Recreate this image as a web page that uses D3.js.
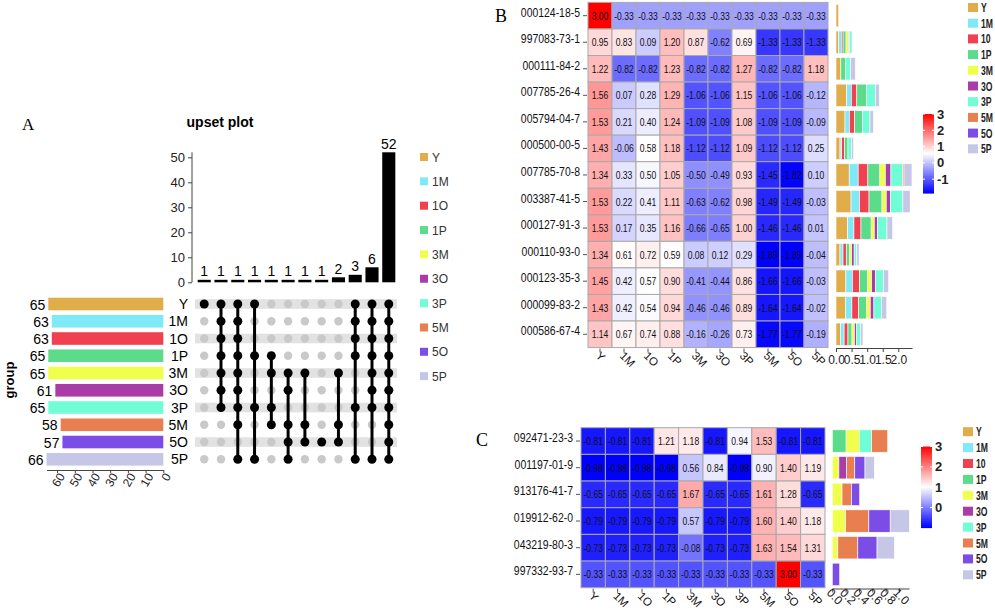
<!DOCTYPE html>
<html><head><meta charset="utf-8">
<script src="https://cdn.jsdelivr.net/npm/d3@7"></script>
<style>body{margin:0;background:#fff;} svg{display:block;font-family:"Liberation Sans",Arial,sans-serif;}</style>
</head><body><svg id="c" width="995" height="614"></svg>
<script>
// ---------- data ----------
const groups = ["Y","1M","1O","1P","3M","3O","3P","5M","5O","5P"];
const legendLabels = ["Y","1M","10","1P","3M","3O","3P","5M","5O","5P"];
const legendLabelsA = ["Y","1M","1O","1P","3M","3O","3P","5M","5O","5P"];
const groupColors = ["#E0AD4A","#80E9F7","#EF4150","#5CDC8B","#EFFF4B","#A93CA6","#70FED6","#E97F50","#7B4CE6","#C6C6E7"];
const setSizes = [65,63,63,65,65,61,65,58,57,66];
const interCounts = [1,1,1,1,1,1,1,1,2,3,6,52];
const interSets = [
  ["Y"],
  ["Y","1M","1O","1P","3M","3O","3P"],
  ["Y","1M","1O","1P","3M","3O","3P","5M","5P"],
  ["Y","1P","3P","5P"],
  ["1P","3M","3P","5M"],
  ["3M","3O","5M","5O","5P"],
  ["3M","5M","5O"],
  ["5O"],
  ["3M","5M","5O"],
  ["Y","1M","1O","1P","3P","5P"],
  ["Y","1M","1O","1P","3M","3O","3P","5P"],
  ["Y","1M","1O","1P","3M","3O","3P","5M","5O","5P"]
];
const upsetTicks = [0,10,20,30,40,50];
const setTicks = [60,50,40,30,20,10,0];

const bRows = ["000124-18-5","997083-73-1","000111-84-2","007785-26-4","005794-04-7","000500-00-5","007785-70-8","003387-41-5","000127-91-3","000110-93-0","000123-35-3","000099-83-2","000586-67-4"];
const bZ = [
[3.00,-0.33,-0.33,-0.33,-0.33,-0.33,-0.33,-0.33,-0.33,-0.33],
[0.95,0.83,0.09,1.20,0.87,-0.62,0.69,-1.33,-1.33,-1.33],
[1.22,-0.82,-0.82,1.23,-0.82,-0.82,1.27,-0.82,-0.82,1.18],
[1.56,0.07,0.28,1.29,-1.06,-1.06,1.15,-1.06,-1.06,-0.12],
[1.53,0.21,0.40,1.24,-1.09,-1.09,1.08,-1.09,-1.09,-0.09],
[1.43,-0.06,0.58,1.18,-1.12,-1.12,1.09,-1.12,-1.12,0.25],
[1.34,0.33,0.50,1.05,-0.50,-0.49,0.93,-1.45,-1.82,0.10],
[1.53,0.22,0.41,1.11,-0.63,-0.62,0.98,-1.49,-1.49,-0.03],
[1.53,0.17,0.35,1.16,-0.66,-0.65,1.00,-1.46,-1.46,0.01],
[1.34,0.61,0.72,0.59,0.08,0.12,0.29,-1.85,-1.85,-0.04],
[1.45,0.42,0.57,0.90,-0.41,-0.44,0.86,-1.66,-1.66,-0.03],
[1.43,0.42,0.54,0.94,-0.46,-0.46,0.89,-1.64,-1.64,-0.02],
[1.14,0.67,0.74,0.88,-0.16,-0.26,0.73,-1.77,-1.77,-0.19]];
const bBars = [
[0.085,0,0,0,0,0,0,0,0,0],
[0.088,0.083,0.055,0.097,0.085,0.027,0.078,0,0,0],
[0.155,0,0,0.155,0,0,0.158,0,0,0.152],
[0.344,0.148,0.176,0.309,0,0,0.290,0,0,0.123],
[0.288,0.143,0.164,0.256,0,0,0.239,0,0,0.110],
[0.129,0.054,0.086,0.116,0,0,0.112,0,0,0.069],
[0.424,0.288,0.311,0.385,0.177,0.178,0.369,0.050,0,0.257],
[0.483,0.273,0.304,0.416,0.137,0.139,0.395,0,0,0.233],
[0.373,0.203,0.226,0.327,0.100,0.101,0.307,0,0,0.183],
[0.128,0.098,0.103,0.098,0.077,0.079,0.086,0,0,0.072],
[0.317,0.212,0.227,0.261,0.127,0.124,0.257,0,0,0.166],
[0.305,0.205,0.217,0.256,0.117,0.117,0.251,0,0,0.161],
[0.142,0.119,0.123,0.129,0.079,0.074,0.122,0,0,0.077]];
const bBarTicks = [0,0.5,1.0,1.5,2.0];
const bColorTicks = [3,2,1,0,-1];

const cRows = ["092471-23-3","001197-01-9","913176-41-7","019912-62-0","043219-80-3","997332-93-7"];
const cZ = [
[-0.81,-0.81,-0.81,1.21,1.18,-0.81,0.94,1.53,-0.81,-0.81],
[-0.98,-0.98,-0.98,-0.98,0.56,0.84,-0.98,0.90,1.40,1.19],
[-0.65,-0.65,-0.65,-0.65,1.67,-0.65,-0.65,1.61,1.28,-0.65],
[-0.79,-0.79,-0.79,-0.79,0.57,-0.79,-0.79,1.60,1.40,1.18],
[-0.73,-0.73,-0.73,-0.73,-0.08,-0.73,-0.73,1.63,1.54,1.31],
[-0.33,-0.33,-0.33,-0.33,-0.33,-0.33,-0.33,-0.33,3.00,-0.33]];
const cBars = [
[0,0,0,0.207,0.204,0,0.179,0.240,0,0],
[0,0,0,0,0.099,0.117,0,0.121,0.153,0.140],
[0,0,0,0,0.146,0,0,0.142,0.122,0],
[0,0,0,0,0.199,0,0,0.349,0.320,0.288],
[0,0,0,0,0.083,0,0,0.300,0.288,0.259],
[0,0,0,0,0,0,0,0,0.110,0]];
const cBarTicks = [0,0.2,0.4,0.6,0.8,1.0];
const cColorTicks = [3,2,1,0];

// ---------- drawing ----------
const svg = d3.select("#c");
const serif = '"Liberation Serif","Times New Roman",serif';
// horizontally condensed text (the B/C panels are narrowed in the reference)
function sqText(parent, x, y, sx, txt){
  return parent.append("text").attr("transform",`translate(${x},${y}) scale(${sx},1)`).text(txt);
}

// ===== Panel A =====
svg.append("text").attr("x",22).attr("y",130).attr("font-family",serif).attr("font-size",17).text("A");
svg.append("text").attr("x",220).attr("y",127).attr("text-anchor","middle").attr("font-weight","bold").attr("font-size",14).text("upset plot");

const colX = d3.scaleBand().domain(d3.range(interCounts.length)).range([196,397]).paddingInner(0.22).paddingOuter(0.1);
const yTop = d3.scaleLinear().domain([0,52]).range([282.3,152.3]);
const rowY = d3.scalePoint().domain(groups).range([304,459.3]);

const gTop = svg.append("g");
gTop.append("g").attr("transform","translate(192,0)")
  .call(d3.axisLeft(yTop).tickValues(upsetTicks).tickSize(4).tickSizeOuter(0))
  .call(g=>{g.selectAll("text").attr("font-size",13).attr("fill","#222");g.selectAll("line,path").attr("stroke","#444");g.select(".domain").attr("d","M0,282.3V152.3");});
gTop.selectAll("rect").data(interCounts).join("rect")
  .attr("x",(d,i)=>colX(i)).attr("width",colX.bandwidth())
  .attr("y",d=>yTop(d)).attr("height",d=>yTop(0)-yTop(d)).attr("fill","#000");
gTop.selectAll("text.cnt").data(interCounts).join("text").attr("class","cnt")
  .attr("x",(d,i)=>colX(i)+colX.bandwidth()/2).attr("y",d=>yTop(d)-3.5)
  .attr("text-anchor","middle").attr("font-size",14).text(d=>d);

groups.forEach((g,i)=>{ if(i%2===0) svg.append("rect").attr("x",195).attr("width",202).attr("y",rowY(g)-4.8).attr("height",9.6).attr("fill","#e2e2e2"); });
svg.selectAll("text.rl").data(groups).join("text").attr("class","rl")
  .attr("x",188).attr("y",d=>rowY(d)+5).attr("text-anchor","end").attr("font-size",14).text(d=>d);
const gM = svg.append("g");
interSets.forEach((s,i)=>{
  const cx = colX(i)+colX.bandwidth()/2;
  groups.forEach(g=>{ if(!s.includes(g)) gM.append("circle").attr("cx",cx).attr("cy",rowY(g)).attr("r",4.2).attr("fill","#c9c9c9"); });
  const ys = s.map(g=>rowY(g));
  if(ys.length>1) gM.append("line").attr("x1",cx).attr("x2",cx).attr("y1",d3.min(ys)).attr("y2",d3.max(ys)).attr("stroke","#000").attr("stroke-width",3);
  s.forEach(g=> gM.append("circle").attr("cx",cx).attr("cy",rowY(g)).attr("r",4.5).attr("fill","#000"));
});

const xSet = d3.scaleLinear().domain([0,66]).range([163.3,46.5]);
svg.selectAll("rect.sb").data(setSizes).join("rect").attr("class","sb")
  .attr("x",d=>xSet(d)).attr("width",d=>xSet(0)-xSet(d))
  .attr("y",(d,i)=>rowY(groups[i])-6.3).attr("height",12.6)
  .attr("fill",(d,i)=>groupColors[i]);
svg.selectAll("text.sv").data(setSizes).join("text").attr("class","sv")
  .attr("x",d=>xSet(d)-3).attr("y",(d,i)=>rowY(groups[i])+5.5).attr("text-anchor","end").attr("font-size",14).text(d=>d);
svg.append("g").attr("transform","translate(0,470)")
  .call(d3.axisBottom(xSet).tickValues(setTicks).tickSize(3).tickSizeOuter(0))
  .call(g=>{g.selectAll("line,path").attr("stroke","#444");
    g.selectAll("text").attr("font-size",12).attr("fill","#222").attr("text-anchor","end").attr("transform","translate(4,4) rotate(-60)").attr("dy","0.35em").attr("y",0).attr("x",0);});
svg.append("text").attr("transform","translate(14,380) rotate(-90)").attr("text-anchor","middle").attr("font-weight","bold").attr("font-size",13).text("group");

legendLabelsA.forEach((l,i)=>{
  const y = 157 + i*24.35;
  svg.append("rect").attr("x",420).attr("y",y-4).attr("width",8).attr("height",8).attr("fill",groupColors[i]);
  svg.append("text").attr("x",432).attr("y",y+4.5).attr("font-size",12).attr("fill","#333").text(l);
});

// ===== heatmap helper =====
function heatmap(opts){
  const {rows, Z, x0, y0, cw, rh, labelX} = opts;
  const flat = Z.flat();
  const mn = d3.min(flat), mx = d3.max(flat), md=(mn+mx)/2;
  const col = d3.scaleLinear().domain([mn,md,mx]).range(["#0000ff","#ffffff","#ff0000"]);
  const xs = d3.scaleBand().domain(groups).range([x0, x0+cw*groups.length]);
  const ys = d3.scaleBand().domain(rows).range([y0, y0+rh*rows.length]);
  const g = svg.append("g");
  Z.forEach((r,ri)=>r.forEach((v,ci)=>{
    g.append("rect").attr("x",xs(groups[ci])).attr("y",ys(rows[ri])).attr("width",xs.bandwidth()).attr("height",ys.bandwidth())
      .attr("fill",col(v)).attr("stroke","#a9a9a9").attr("stroke-width",1);
    sqText(g, xs(groups[ci])+xs.bandwidth()/2, ys(rows[ri])+ys.bandwidth()/2+4, 0.78, v.toFixed(2))
      .attr("text-anchor","middle").attr("font-size",11).attr("fill","#111");
  }));
  rows.forEach(r=>{
    const yc = ys(r)+ys.bandwidth()/2;
    g.append("line").attr("x1",x0-5).attr("x2",x0-1).attr("y1",yc).attr("y2",yc).attr("stroke","#555");
    sqText(g, labelX, yc+1, 0.87, r).attr("text-anchor","end").attr("font-size",12).attr("fill","#111");
  });
  const yb = y0+rh*rows.length;
  groups.forEach(c=>{
    const xc = xs(c)+xs.bandwidth()/2;
    g.append("line").attr("x1",xc).attr("x2",xc).attr("y1",yb+1).attr("y2",yb+5).attr("stroke","#555");
    g.append("text").attr("transform",`translate(${xc-5},${yb+9}) rotate(45)`).attr("font-size",11.5).attr("fill","#111").text(c);
  });
  return {col, ys, mn, mx};
}
function stackBars(opts){
  const {rows, V, ys, x, axisY, ticks, fmt, rotate} = opts;
  const g = svg.append("g");
  V.forEach((r,ri)=>{
    let acc=0;
    r.forEach((v,ci)=>{
      if(v>0){
        g.append("rect").attr("x",x(acc)).attr("width",x(acc+v)-x(acc)).attr("y",ys(rows[ri])+ys.bandwidth()/2-11.2).attr("height",22.4)
          .attr("fill",groupColors[ci]).attr("stroke","#fff").attr("stroke-width",0.6);
      }
      acc+=v;
    });
  });
  const ax = g.append("g").attr("transform",`translate(0,${axisY})`)
    .call(d3.axisBottom(x).tickValues(ticks).tickFormat(d3.format(fmt)).tickSize(4).tickSizeOuter(0));
  ax.selectAll("line,path").attr("stroke","#444");
  ax.selectAll("text").attr("font-size",12).attr("fill","#222");
  if(rotate){ ax.selectAll("text").attr("transform","translate(2,8) rotate(45)").attr("y",0).attr("dy","0.35em").attr("text-anchor","middle"); }
}
function colorbar(col, mn, mx, x, yOf, ticks){
  const g = svg.append("g");
  const n=120;
  for(let i=0;i<n;i++){
    const v0 = mx-(mx-mn)*i/n, v1 = mx-(mx-mn)*(i+1)/n;
    g.append("rect").attr("x",x).attr("width",11).attr("y",yOf(v0)).attr("height",yOf(v1)-yOf(v0)+0.6).attr("fill",col((v0+v1)/2));
  }
  ticks.forEach(t=>{
    g.append("line").attr("x1",x).attr("x2",x+2).attr("y1",yOf(t)).attr("y2",yOf(t)).attr("stroke","#fff");
    g.append("line").attr("x1",x+9).attr("x2",x+11).attr("y1",yOf(t)).attr("y2",yOf(t)).attr("stroke","#fff");
    g.append("text").attr("x",x+14).attr("y",yOf(t)+4.5).attr("font-size",13).attr("font-weight","bold").attr("fill","#222").text(t);
  });
}
function legend(labels, x, y0, step){
  labels.forEach((l,i)=>{
    const y=y0+i*step;
    svg.append("rect").attr("x",x).attr("y",y-4.5).attr("width",10).attr("height",9).attr("fill",groupColors[i]);
    sqText(svg, x+13, y+4.5, 0.72, l).attr("font-size",12).attr("font-weight","bold").attr("fill","#222");
  });
}

// ===== Panel B =====
svg.append("text").attr("x",495).attr("y",22).attr("font-family",serif).attr("font-size",18).text("B");
const hb = heatmap({rows:bRows, Z:bZ, x0:588, y0:2.4, cw:24, rh:26.55, labelX:580});
stackBars({rows:bRows, V:bBars, ys:hb.ys, x:d3.scaleLinear().domain([0,2.44]).range([836,912]), axisY:348, ticks:bBarTicks, fmt:".1f"});
const yB = d3.scaleLinear().domain([3,hb.mn]).range([114,193]);
colorbar(hb.col, hb.mn, hb.mx, 923, yB, bColorTicks);
legend(legendLabels, 968, 7.5, 15.7);

// ===== Panel C =====
svg.append("text").attr("x",476).attr("y",446).attr("font-family",serif).attr("font-size",18).text("C");
const hc = heatmap({rows:cRows, Z:cZ, x0:581, y0:427.7, cw:24.4, rh:26.67, labelX:573});
stackBars({rows:cRows, V:cBars, ys:hc.ys, x:d3.scaleLinear().domain([0,1.15]).range([832.3,909]), axisY:588.5, ticks:cBarTicks, fmt:".1f", rotate:true});
const yC = d3.scaleLinear().domain([3,hc.mn]).range([446.5,527.5]);
colorbar(hc.col, hc.mn, hc.mx, 921, yC, cColorTicks);
legend(legendLabels, 963, 431.7, 15.9);
</script></body></html>
